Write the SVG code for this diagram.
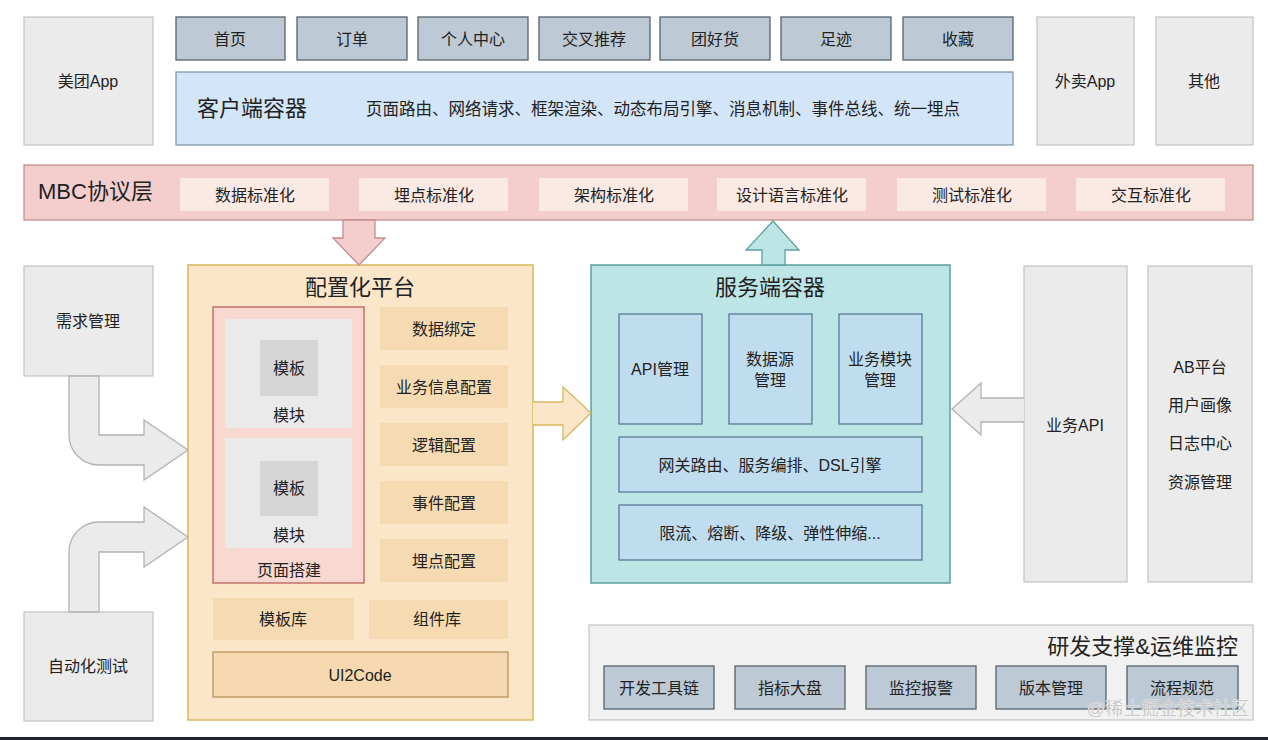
<svg xmlns="http://www.w3.org/2000/svg" width="1268" height="740" viewBox="0 0 1268 740">
<style>
text{font-family:"Liberation Sans","Noto Sans CJK SC",sans-serif;fill:#222;font-size:16px;text-anchor:middle;dominant-baseline:central}
.big{font-size:22px}
.gray{fill:#ebebeb;stroke:#c2c2c2;stroke-width:1.2}
.tab{fill:#bdcad5;stroke:#56616b;stroke-width:1.3}
.mbci{fill:#fbe9e3}
.cfgi{fill:#f6dab2}
.svci{fill:#c0ddef;stroke:#4e7190;stroke-width:1.2}
.mod{fill:#eaeaea}
.tpl{fill:#d6d6d6}
</style>
<rect width="1268" height="740" fill="#ffffff"/>

<g id="meituan-app"><rect class="gray" x="24" y="17" width="129" height="128"/><text x="88" y="81">美团App</text></g>
<g id="tab-home"><rect class="tab" x="176" y="17" width="109" height="43"/><text x="230" y="39">首页</text></g>
<g id="tab-order"><rect class="tab" x="297" y="17" width="110" height="43"/><text x="352" y="39">订单</text></g>
<g id="tab-personal"><rect class="tab" x="418" y="17" width="110" height="43"/><text x="473" y="39">个人中心</text></g>
<g id="tab-cross"><rect class="tab" x="539" y="17" width="111" height="43"/><text x="594" y="39">交叉推荐</text></g>
<g id="tab-tuan"><rect class="tab" x="660" y="17" width="110" height="43"/><text x="715" y="39">团好货</text></g>
<g id="tab-footprint"><rect class="tab" x="781" y="17" width="110" height="43"/><text x="836" y="39">足迹</text></g>
<g id="tab-fav"><rect class="tab" x="903" y="17" width="110" height="43"/><text x="958" y="39">收藏</text></g>
<g id="client-container"><rect x="176" y="72" width="837" height="73" fill="#d3e5f8" stroke="#8097ad" stroke-width="1.3"/><text class="big" x="197" y="108" style="text-anchor:start">客户端容器</text><text x="366" y="109" style="text-anchor:start;font-size:16.5px">页面路由、网络请求、框架渲染、动态布局引擎、消息机制、事件总线、统一埋点</text></g>
<g id="waimai-app"><rect class="gray" x="1037" y="17" width="97" height="128"/><text x="1085" y="81">外卖App</text></g>
<g id="other"><rect class="gray" x="1156" y="17" width="97" height="128"/><text x="1204" y="81">其他</text></g>

<g id="mbc-layer"><rect x="24" y="165" width="1229" height="55" fill="#f4cdcd" stroke="#bf8f8f" stroke-width="1.3"/><text class="big" x="38" y="191" style="text-anchor:start">MBC协议层</text>
<rect class="mbci" x="180" y="178" width="149" height="33"/><text x="255" y="195">数据标准化</text>
<rect class="mbci" x="359" y="178" width="149" height="33"/><text x="434" y="195">埋点标准化</text>
<rect class="mbci" x="539" y="178" width="149" height="33"/><text x="614" y="195">架构标准化</text>
<rect class="mbci" x="717" y="178" width="149" height="33"/><text x="792" y="195">设计语言标准化</text>
<rect class="mbci" x="897" y="178" width="149" height="33"/><text x="972" y="195">测试标准化</text>
<rect class="mbci" x="1076" y="178" width="149" height="33"/><text x="1151" y="195">交互标准化</text></g>

<g id="demand-mgmt"><rect class="gray" x="24" y="266" width="129" height="110"/><text x="88" y="321">需求管理</text></g>
<g id="auto-test"><rect class="gray" x="24" y="612" width="129" height="109"/><text x="88" y="666">自动化测试</text></g>

<g id="config-platform"><rect x="188" y="265" width="345" height="455" fill="#fbe6ca" stroke="#d8b85c" stroke-width="1.5"/><text class="big" x="360" y="287">配置化平台</text>
<g id="page-build"><rect x="213" y="307" width="151" height="276" fill="#f8d8d0" stroke="#b9625a" stroke-width="1.3"/>
<rect class="mod" x="225" y="319" width="127" height="109"/><rect class="tpl" x="260" y="340" width="58" height="56"/><text x="289" y="368">模板</text><text x="289" y="415">模块</text>
<rect class="mod" x="225" y="438" width="127" height="110"/><rect class="tpl" x="260" y="461" width="58" height="55"/><text x="289" y="488">模板</text><text x="289" y="535">模块</text>
<text x="289" y="570">页面搭建</text></g>
<rect class="cfgi" x="380" y="307" width="128" height="43"/><text x="444" y="329">数据绑定</text>
<rect class="cfgi" x="380" y="365" width="128" height="43"/><text x="444" y="387">业务信息配置</text>
<rect class="cfgi" x="380" y="423" width="128" height="43"/><text x="444" y="445">逻辑配置</text>
<rect class="cfgi" x="380" y="481" width="128" height="43"/><text x="444" y="503">事件配置</text>
<rect class="cfgi" x="380" y="539" width="128" height="43"/><text x="444" y="561">埋点配置</text>
<rect class="cfgi" x="213" y="598" width="141" height="42"/><text x="283" y="619">模板库</text>
<rect class="cfgi" x="369" y="600" width="139" height="39"/><text x="437" y="619">组件库</text>
<rect x="213" y="652" width="295" height="45" fill="#f6d9b0" stroke="#b8955c" stroke-width="1.3"/><text x="360" y="675">UI2Code</text></g>

<g id="server-container"><rect x="591" y="265" width="359" height="318" fill="#bde5e5" stroke="#5e9fa0" stroke-width="1.5"/><text class="big" x="770" y="287">服务端容器</text>
<rect class="svci" x="619" y="314" width="83" height="110"/><text x="660" y="369">API管理</text>
<rect class="svci" x="729" y="314" width="83" height="110"/><text x="770" y="359">数据源</text><text x="770" y="380">管理</text>
<rect class="svci" x="839" y="314" width="83" height="110"/><text x="880" y="359">业务模块</text><text x="880" y="380">管理</text>
<rect class="svci" x="619" y="437" width="303" height="55"/><text x="770" y="465">网关路由、服务编排、DSL引擎</text>
<rect class="svci" x="619" y="505" width="303" height="55"/><text x="770" y="533">限流、熔断、降级、弹性伸缩...</text></g>

<g id="biz-api"><rect class="gray" x="1024" y="266" width="103" height="316"/><text x="1075" y="425">业务API</text></g>
<g id="platforms"><rect class="gray" x="1148" y="266" width="104" height="316"/><text x="1200" y="367">AB平台</text><text x="1200" y="405">用户画像</text><text x="1200" y="443">日志中心</text><text x="1200" y="482">资源管理</text></g>

<g id="devops"><rect x="589" y="625" width="664" height="95" fill="#f1f1f1" stroke="#c4c4c4" stroke-width="1.2"/><text class="big" x="1238" y="646" style="text-anchor:end">研发支撑&amp;运维监控</text>
<rect class="tab" x="604" y="666" width="110" height="43"/><text x="659" y="688">开发工具链</text>
<rect class="tab" x="735" y="666" width="110" height="43"/><text x="790" y="688">指标大盘</text>
<rect class="tab" x="866" y="666" width="110" height="43"/><text x="921" y="688">监控报警</text>
<rect class="tab" x="996" y="666" width="110" height="43"/><text x="1051" y="688">版本管理</text>
<rect class="tab" x="1127" y="666" width="111" height="43"/><text x="1182" y="688">流程规范</text></g>

<g id="connectors" stroke-width="1.3" stroke-linejoin="miter">
<path d="M343 220 H375 V238 H385 L359 265 L333 238 H343 Z" fill="#f4cdcd" stroke="#bf8f8f"/>
<path d="M762 265 V250 H746 L773 221 L799 250 H785 V265 Z" fill="#bde5e5" stroke="#5e9fa0"/>
<path d="M533 402 H563 V387 L591 413 L563 440 V425 H533" fill="#fbe6ca" stroke="#d8b85c"/>
<path d="M1024 398 H981 V383 L952 409 L981 435 V422 H1024" fill="#ebebeb" stroke="#b3b3b3"/>
<path d="M69 376 H99 V435 H144 V420 L188 450 L144 480 V465 H99 A30 30 0 0 1 69 435 Z" fill="#ebebeb" stroke="#b3b3b3"/>
<path d="M69 612 V552 A30 30 0 0 1 99 522 H144 V507 L188 537 L144 567 V552 H99 V612 Z" fill="#ebebeb" stroke="#b3b3b3"/>
</g>

<text x="1168" y="709" style="font-size:18px;fill:#c8c8c8;stroke:#ffffff;stroke-width:0.6;paint-order:stroke">@稀土掘金技术社区</text>
<rect x="0" y="737" width="1268" height="3" fill="#1f2331"/>
</svg>
